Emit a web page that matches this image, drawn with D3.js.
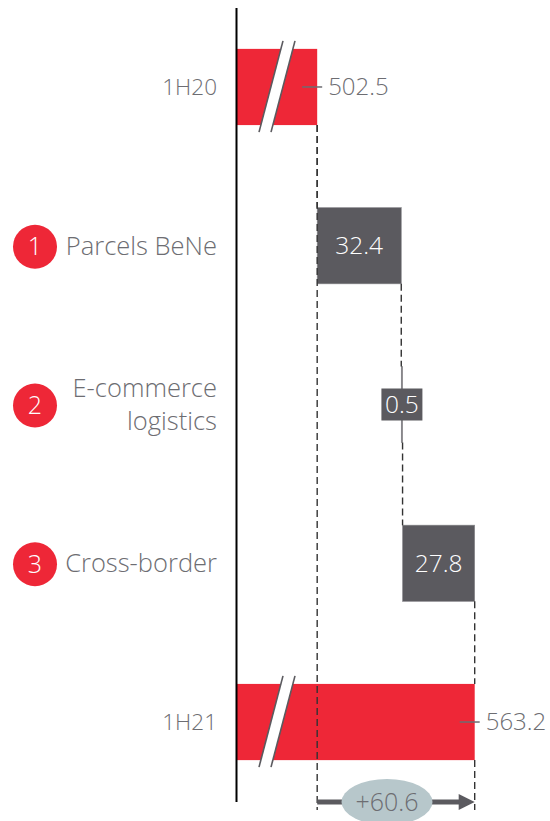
<!DOCTYPE html>
<html>
<head>
<meta charset="utf-8">
<script src="https://cdn.jsdelivr.net/npm/d3@7/dist/d3.min.js"></script>
<style>
  html, body { margin: 0; padding: 0; background: #ffffff; }
  svg { display: block; }
  text { font-family: "Open Sans", "Noto Sans", sans-serif; font-weight: 300; }
</style>
</head>
<body>
<svg id="chart" width="550" height="821"></svg>
<script>
// Revenue bridge 1H20 -> 1H21 (EUR m)
const categories = ["1H20", "Parcels BeNe", "E-commerce logistics", "Cross-border", "1H21"];
const labelLines = [["1H20"], ["Parcels BeNe"], ["E-commerce", "logistics"], ["Cross-border"], ["1H21"]];
const values = [502.5, 32.4, 0.5, 27.8, 563.2];
const kinds = ["total", "delta", "delta", "delta", "total"];
const markers = ["", "1", "2", "3", ""];
const totalChange = 60.6;
const axisStart = 471.6; // broken axis: totals are cut at this value

const RED = "#ee2737", BAR = "#5b5a5f", TEXT = "#6d6d72", BUBBLE = "#b7c7cb";

const svg = d3.select("#chart");

// running totals for the waterfall
let run = 0;
const rows = categories.map((c, i) => {
  let x0, x1;
  if (kinds[i] === "total") { x0 = axisStart; x1 = values[i]; run = values[i]; }
  else { x0 = run; x1 = run + values[i]; run = x1; }
  return { cat: c, lines: labelLines[i], value: values[i], kind: kinds[i], marker: markers[i], x0, x1 };
});

const x = d3.scaleLinear().domain([axisStart, values[values.length - 1]]).range([237, 474.7]);
const y = d3.scaleBand().domain(categories).range([7.6, 801.4]).paddingInner(0.52).paddingOuter(0.26);
const bw = y.bandwidth();
const bottomY = 810;

// bars
svg.append("g").selectAll("rect").data(rows).join("rect")
  .attr("x", d => x(d.x0))
  .attr("y", d => y(d.cat))
  .attr("width", d => Math.max(1.3, x(d.x1) - x(d.x0)))
  .attr("height", bw)
  .attr("fill", d => d.kind === "total" ? RED : BAR)
  .attr("stroke", d => d.kind === "total" ? "none" : "#8a898d")
  .attr("stroke-width", 0.6);

// axis break marks on the totals
const breaks = svg.append("g");
rows.filter(d => d.kind === "total").forEach(d => {
  const cx = x(d.x0) + 40, top = y(d.cat) - 8, bot = y(d.cat) + bw + 7;
  const slant = 12, gap = 12;
  breaks.append("polygon")
    .attr("points", [[cx + slant - gap / 2, top], [cx + slant + gap / 2, top], [cx - slant + gap / 2, bot], [cx - slant - gap / 2, bot]].map(p => p.join(",")).join(" "))
    .attr("fill", "#ffffff");
  [-gap / 2, gap / 2].forEach(o => {
    breaks.append("line")
      .attr("x1", cx + slant + o).attr("y1", top)
      .attr("x2", cx - slant + o).attr("y2", bot)
      .attr("stroke", "#5b5a5f").attr("stroke-width", 1.6);
  });
});

// dashed connectors
const dashes = svg.append("g").attr("stroke", "#333").attr("stroke-width", 1.4).attr("stroke-dasharray", "7,4");
for (let i = 0; i < rows.length - 1; i++) {
  const xv = rows[i].x1;
  dashes.append("line")
    .attr("x1", x(xv)).attr("x2", x(xv))
    .attr("y1", y(rows[i].cat) + bw).attr("y2", y(rows[i + 1].cat));
}
// reference lines for the overall change bracket
const first = rows[0], last = rows[rows.length - 1];
dashes.append("line").attr("x1", x(first.x1)).attr("x2", x(first.x1))
  .attr("y1", y(first.cat) + bw).attr("y2", bottomY);
dashes.append("line").attr("x1", x(last.x1)).attr("x2", x(last.x1))
  .attr("y1", y(last.cat) + bw).attr("y2", bottomY);

// vertical axis line
svg.append("line").attr("x1", 236.5).attr("x2", 236.5).attr("y1", 8).attr("y2", 802)
  .attr("stroke", "#000").attr("stroke-width", 2);

// value labels
rows.forEach(d => {
  const cy = y(d.cat) + bw / 2;
  const txt = d3.format(".1f")(d.value);
  if (d.kind === "total") {
    const xe = x(d.x1);
    svg.append("line").attr("x1", xe - 15).attr("x2", xe + 5).attr("y1", cy).attr("y2", cy)
      .attr("stroke", "#6d6d72").attr("stroke-width", 1.5);
    svg.append("text").attr("x", xe + 11).attr("y", cy).attr("dy", "0.35em")
      .attr("font-size", 24).attr("fill", TEXT).text(txt);
  } else {
    const cx = (x(d.x0) + x(d.x1)) / 2;
    if (x(d.x1) - x(d.x0) < 40) {
      svg.append("rect").attr("x", cx - 20.5).attr("y", cy - 16).attr("width", 41).attr("height", 32)
        .attr("fill", BAR);
    }
    svg.append("text").attr("x", cx).attr("y", cy).attr("dy", "0.35em").attr("text-anchor", "middle")
      .attr("font-size", 24.5).attr("fill", "#ffffff").text(txt);
  }
});

// category labels
rows.forEach(d => {
  const cy = y(d.cat) + bw / 2;
  const n = d.lines.length;
  const t = svg.append("text").attr("x", 217).attr("text-anchor", "end")
    .attr("font-size", d.kind === "total" ? 22.5 : 25.5).attr("fill", TEXT);
  d.lines.forEach((ln, k) => {
    t.append("tspan").attr("x", 217).attr("y", cy + (k - (n - 1) / 2) * 33).attr("dy", "0.35em").text(ln);
  });
  if (d.marker) {
    svg.append("circle").attr("cx", 35).attr("cy", cy + 1).attr("r", 22).attr("fill", RED);
    svg.append("text").attr("x", 35).attr("y", cy + 1).attr("dy", "0.35em").attr("text-anchor", "middle")
      .attr("font-size", 25).attr("fill", "#ffffff").text(d.marker);
  }
});

// overall change arrow
const ay = 802, ax0 = x(first.x1), ax1 = x(last.x1);
svg.append("line").attr("x1", ax0).attr("x2", ax1 - 14).attr("y1", ay).attr("y2", ay)
  .attr("stroke", BAR).attr("stroke-width", 5);
svg.append("polygon")
  .attr("points", [[ax1, ay], [ax1 - 16, ay - 8], [ax1 - 16, ay + 8]].map(p => p.join(",")).join(" "))
  .attr("fill", BAR);
svg.append("ellipse").attr("cx", 387).attr("cy", ay).attr("rx", 45.5).attr("ry", 23).attr("fill", BUBBLE);
svg.append("text").attr("x", 387).attr("y", ay).attr("dy", "0.35em").attr("text-anchor", "middle")
  .attr("font-size", 25).attr("fill", TEXT).text("+" + d3.format(".1f")(totalChange));
</script>
</body>
</html>
